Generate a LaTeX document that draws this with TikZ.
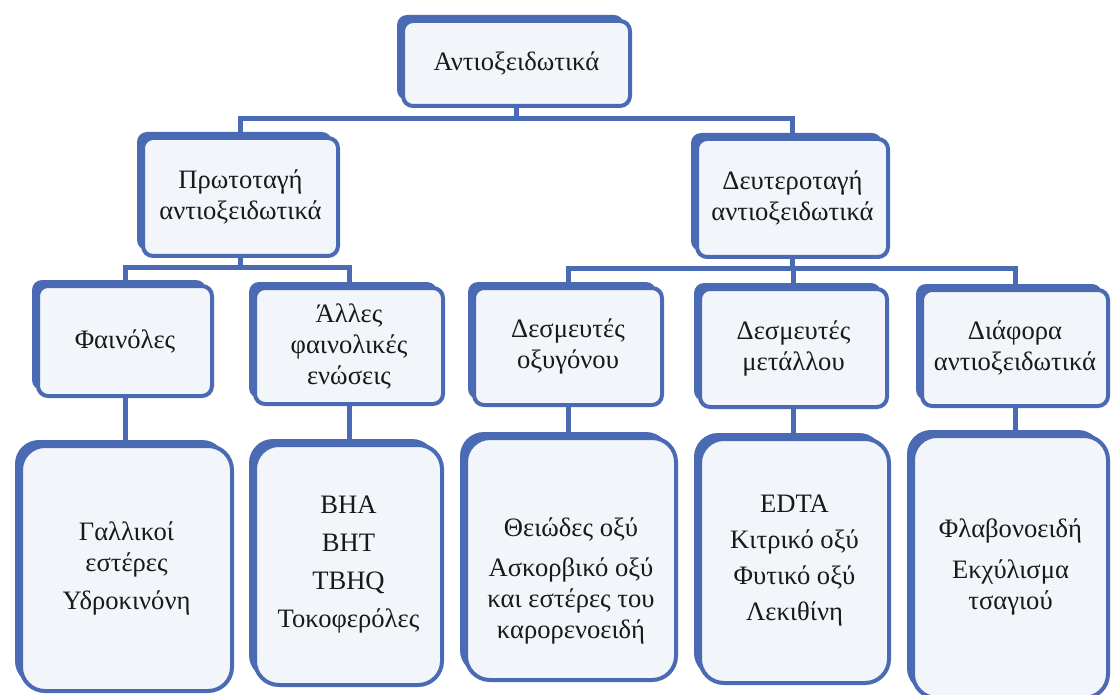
\documentclass[tikz,border=0pt]{standalone}
\usepackage{fontspec}
\setmainfont{Liberation Serif}
\usetikzlibrary{shadows,backgrounds}
\definecolor{boxblue}{HTML}{4A6AB4}
\definecolor{boxfill}{HTML}{F2F5FA}
\begin{document}
\begin{tikzpicture}[x=0.5pt,y=-0.5pt,
    box/.style={draw=boxblue, line width=2pt, fill=boxfill, rounded corners=5pt,
      drop shadow={shadow xshift=-3pt, shadow yshift=3pt, fill=boxblue, opacity=1},
      align=center, text=black!90, font=\fontsize{13.3}{15.5}\selectfont, inner sep=2pt},
    bigbox/.style={box, rounded corners=12pt},
    conn/.style={draw=boxblue, line width=2.5pt}]
    \useasboundingbox (0,0) rectangle (1113,695);

    % top
    \node[box, minimum width=113.5pt, minimum height=42.5pt] (antiox) at (516.5,63.5) {Αντιοξειδωτικά};

    % second level
    \node[box, minimum width=97.5pt, minimum height=59pt] (primary) at (240.5,197) {Πρωτοταγή\\αντιοξειδωτικά};
    \node[box, minimum width=95.5pt, minimum height=59pt] (secondary) at (792.5,198) {Δευτεροταγή\\αντιοξειδωτικά};

    % third level
    \node[box, minimum width=87pt, minimum height=55pt] (phenols) at (125,341) {Φαινόλες};
    \node[box, minimum width=94pt, minimum height=58pt] (otherphen) at (349,346) {Άλλες\\φαινολικές\\ενώσεις};
    \node[box, minimum width=94pt, minimum height=58.5pt] (oxyscav) at (568,346.5) {Δεσμευτές\\οξυγόνου};
    \node[box, minimum width=93.5pt, minimum height=59pt] (metalscav) at (793.5,348) {Δεσμευτές\\μετάλλου};
    \node[box, minimum width=93pt, minimum height=58pt] (various) at (1015,348) {Διάφορα\\αντιοξειδωτικά};

    % examples
    \node[bigbox, minimum width=105.5pt, minimum height=122.5pt] (gallates) at (126.5,568.5) {Γαλλικοί\\εστέρες\\[3.5pt]Υδροκινόνη};
    \node[bigbox, minimum width=93.5pt, minimum height=120pt] (synth) at (348.5,565) {BHA\\[3.5pt]BHT\\[3.5pt]TBHQ\\[3.5pt]Τοκοφερόλες};
    \node[bigbox, minimum width=105pt, minimum height=121pt] (sulfite) at (571,559) {\mbox{}\\[16pt]Θειώδες οξύ\\[4.5pt]Ασκορβικό οξύ\\και εστέρες του\\καρορενοειδή};
    \node[bigbox, minimum width=94.5pt, minimum height=122pt] (chelators) at (794.5,561) {EDTA\\[2.5pt]Κιτρικό οξύ\\[2.5pt]Φυτικό οξύ\\[2.5pt]Λεκιθίνη};
    \node[bigbox, minimum width=97.5pt, minimum height=131pt] (flavon) at (1010.5,567) {Φλαβονοειδή\\[5pt]Εκχύλισμα\\τσαγιού};

    % connectors behind the boxes
    \begin{scope}[on background layer]
        \coordinate (bus1) at ([yshift=-5.5pt]antiox.south);
        \coordinate (bus2) at ([yshift=-5pt]primary.south);
        \coordinate (bus3) at ([yshift=-5pt]secondary.south);
        \draw[conn] (antiox.south) -- (bus1);
        \draw[conn] (primary.north) |- (bus1) -| (secondary.north);
        \draw[conn] (primary.south) -- (bus2);
        \draw[conn] (phenols.north) |- (bus2) -| (otherphen.north);
        \draw[conn] (secondary.south) -- (bus3);
        \draw[conn] (oxyscav.north) |- (bus3) -| (various.north);
        \draw[conn] (metalscav.north) -- (metalscav.north |- bus3);
        \draw[conn] (phenols.south) -- (phenols.south |- gallates.north);
        \draw[conn] (otherphen.south) -- (otherphen.south |- synth.north);
        \draw[conn] (oxyscav.south) -- (oxyscav.south |- sulfite.north);
        \draw[conn] (metalscav.south) -- (metalscav.south |- chelators.north);
        \draw[conn] (various.south) -- (various.south |- flavon.north);
    \end{scope}
\end{tikzpicture}
\end{document}
